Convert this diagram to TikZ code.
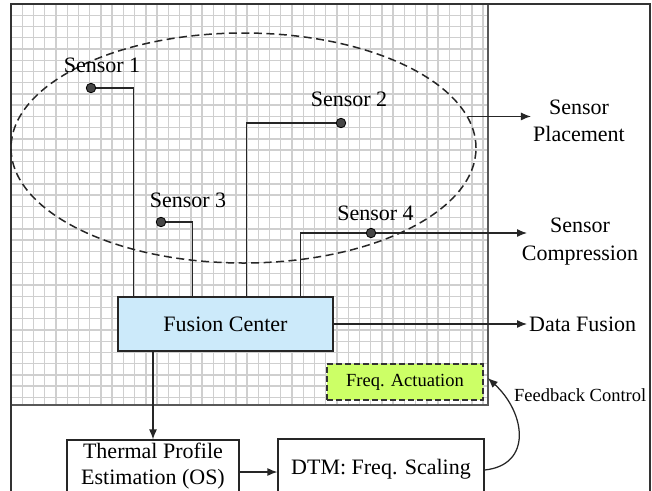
\documentclass[tikz,border=0pt]{standalone}
\usepackage{fontspec}
\setmainfont{Liberation Serif}
\usetikzlibrary{arrows.meta,shapes.geometric,calc}

\definecolor{fcblue}{RGB}{204,234,250}
\definecolor{actgreen}{RGB}{204,255,102}
\definecolor{dotgray}{RGB}{70,70,70}

\tikzset{
  bigfont/.style={font=\fontsize{22}{27.5}\selectfont},
  smallfont/.style={font=\fontsize{18.5}{22}\selectfont},
  gridline/.style={draw=black!19, line width=1.4},
  wire/.style={draw=black!85, line width=1.25},
  arrowline/.style={wire, -{Latex[length=10pt,width=8pt]}},
  sensordot/.style={circle, fill=dotgray, draw=black, line width=0.8, inner sep=0, minimum size=9.5pt},
  block/.style={draw=black!85, line width=1.2, inner sep=0, align=center, bigfont},
  label/.style={bigfont, inner sep=2pt},
}

\begin{document}
\begin{tikzpicture}[x=1pt,y=-1pt]
  \path[use as bounding box] (0,0) rectangle (652,490);
  \clip (0,0) rectangle (652,490);
  \fill[white] (0,0) rectangle (652,490);

  % chip floorplan grid
  \foreach \k in {1,...,42}
    \draw[gridline] ({11+\k*11.24},4) -- ({11+\k*11.24},405);
  \foreach \k in {1,...,35}
    \draw[gridline] (11,{4+\k*11.24}) -- (488,{4+\k*11.24});
  \draw[draw=black!65, line width=2] (11,4) rectangle (488,405);

  % outer frame
  \draw[black!80, line width=1.6] (11,495) -- (11,4) -- (650,4) -- (650,495);

  % sensor zone
  \node[ellipse, draw=black!85, dash pattern=on 8pt off 4.5pt, line width=1.5,
        minimum width=465, minimum height=230, inner sep=0] (zone) at (243.5,148) {};

  % sensors
  \node[sensordot] (s1) at (91,88) {};
  \node[sensordot] (s2) at (341,123) {};
  \node[sensordot] (s3) at (161,222) {};
  \node[sensordot] (s4) at (371,233) {};
  \node[label] (l1) at (102,65) {Sensor 1};
  \node[label] (l2) at (349,99) {Sensor 2};
  \node[label] (l3) at (188,200) {Sensor 3};
  \node[label] (l4) at (375.5,213) {Sensor 4};

  % fusion center
  \node[block, fill=fcblue, minimum width=215, minimum height=54] (fc) at (225.5,324) {Fusion Center};

  % sensor wires into the fusion center
  \draw[wire] (s1) -| ([xshift=16pt]fc.north west);
  \draw[wire] (s2) -| ([xshift=129pt]fc.north west);
  \draw[wire] (s3) -| ([xshift=75pt]fc.north west);
  \draw[wire] (s4) -| ([xshift=183pt]fc.north west);

  % right-hand annotations
  \node[label, align=center] (place) at (579,121) {Sensor\\Placement};
  \draw[arrowline] (zone.8) -- (zone.8 -| place.west);

  \node[label, align=center] (comp) at (580,241.5) {Sensor\\Compression};
  \coordinate (compend) at (527,233);
  \draw[arrowline] (s4) -- (compend);

  \node[label, anchor=west] (df) at (527,324) {Data Fusion};
  \draw[arrowline] (fc.east) -- (df.west);

  % frequency actuation
  \node[block, fill=actgreen, draw=black!80, line width=1.6, dash pattern=on 6pt off 3pt,
        minimum width=156, minimum height=36, smallfont] (fa) at (405,382) {Freq. Actuation};

  % OS / DTM blocks
  \node[block, fill=white, minimum width=172, minimum height=52,
        font=\fontsize{22}{26}\selectfont] (th) at (153,466) {Thermal Profile\\Estimation (OS)};
  \node[block, fill=white, minimum width=206, minimum height=60] (dtm) at (381,469) {DTM: Freq. Scaling};

  \draw[arrowline] (th.north |- fc.south) -- (th.north);
  \draw[arrowline] ([yshift=-6pt]th.east) -- ([yshift=-6pt]th.east -| dtm.west);

  % feedback loop
  \draw[arrowline] ([yshift=-1pt]dtm.east) .. controls +(48,-5) and +(38,35) .. ([xshift=4pt,yshift=4pt]fa.east);
  \node[smallfont, anchor=west, inner sep=2pt] (fbl) at (512,395) {Feedback Control};
\end{tikzpicture}
\end{document}
